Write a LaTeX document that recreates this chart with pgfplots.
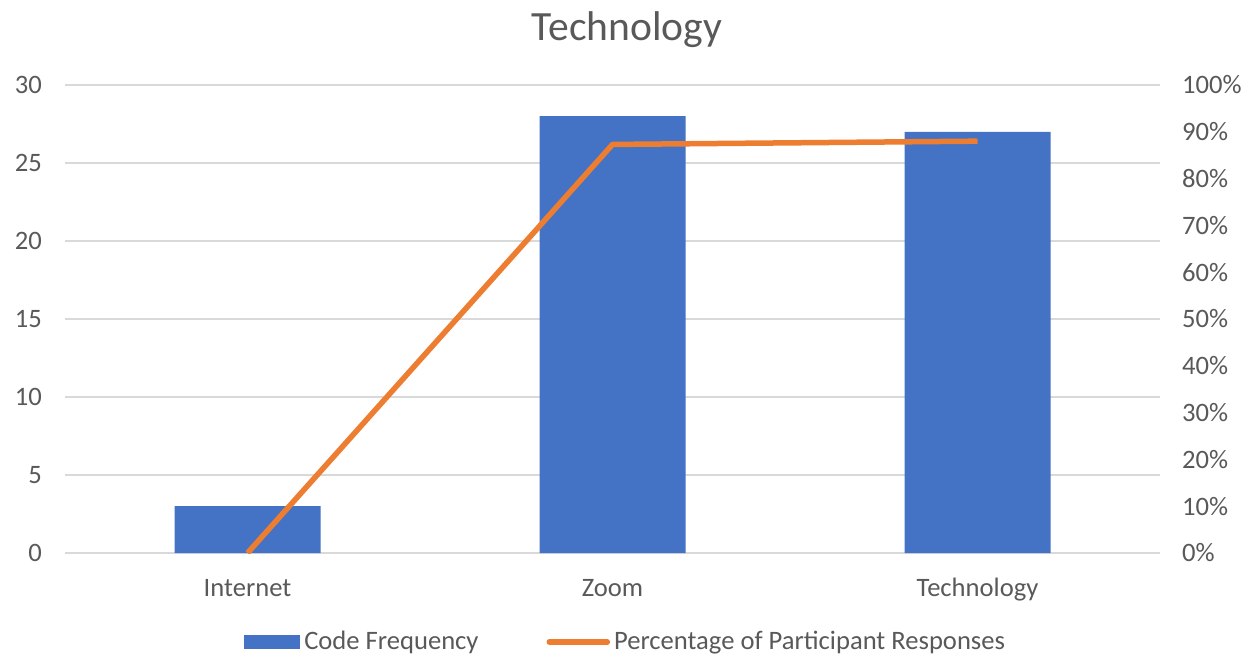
\documentclass[border=0pt]{standalone}
\usepackage{pgfplots}
\pgfplotsset{compat=1.18}
\usepackage{fontspec}
\setmainfont{Carlito}
\definecolor{barblue}{HTML}{4472C4}
\definecolor{lineorange}{HTML}{ED7D31}
\definecolor{gridgray}{HTML}{D9D9D9}
\definecolor{textgray}{HTML}{595959}

\begin{document}
\begin{tikzpicture}
\useasboundingbox (0,0) rectangle (628.5pt,330.5pt);
\pgfplotsset{
  base/.style={
    scale only axis, width=547.5pt, height=234pt,
    xmin=-0.5, xmax=2.5,
    at={(32.5pt,54pt)}, anchor=south west,
    /pgf/number format/assume math mode=true,
    major tick length=0pt,
    axis line style={draw=none},
    ticklabel style={font=\fontsize{13.3}{16}\selectfont, text=textgray},
  }
}
% left axis: code frequency bars
\begin{axis}[base,
  ymin=0, ymax=30, ytick={0,5,...,30},
  ymajorgrids, grid style={gridgray, line width=1pt},
  xtick={0,1,2}, xticklabels={Internet,Zoom,Technology},
  xticklabel style={anchor=base, yshift=-21.5pt},
  yticklabel style={anchor=east, xshift=-8pt},
]
\addplot[ybar, bar width=73pt, fill=barblue, draw=none] coordinates {(0,3) (1,28) (2,27)};
\end{axis}
% right axis: percentage line
\begin{axis}[base,
  ymin=0, ymax=100, ytick={0,10,...,100},
  yticklabel pos=right,
  yticklabel={\pgfmathprintnumber{\tick}\%},
  yticklabel style={anchor=west, xshift=7.5pt},
  hide x axis,
  legend style={at={(0.513,-0.19)}, anchor=center, draw=none, fill=none,
    legend columns=-1, font=\fontsize{13.3}{16}\selectfont, text=textgray,
    /tikz/every even column/.append style={column sep=32pt}},
]
\addlegendimage{legend image code/.code={\fill[barblue] (0pt,-3.25pt) rectangle (27.5pt,3.25pt);}}
\addlegendentry{Code Frequency}
\addplot[lineorange, line width=2.75pt, line join=round, mark=none,
  legend image code/.code={\draw[lineorange, line width=2.75pt, line cap=round] (0pt,0pt) -- (29pt,0pt);}]
  coordinates {(0,0) (1,87.3) (2,88.0)};
\addlegendentry{Percentage of Participant Responses}
\end{axis}
\node[anchor=base, font=\fontsize{20.8}{24}\selectfont, text=textgray] at (313.5pt,310.5pt) {Technology};
\end{tikzpicture}
\end{document}
